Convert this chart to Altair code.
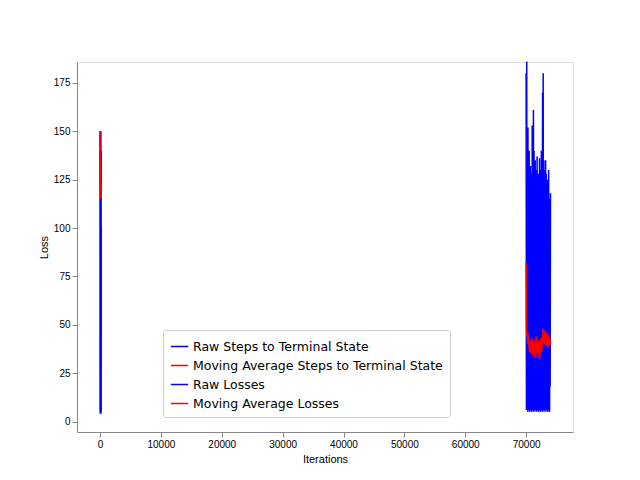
import altair as alt
import pandas as pd

near_raw = [150, 5, 148, 8, 120, 4, 150, 6, 92, 10, 145, 5, 130, 7, 150, 4, 110, 6, 140, 5, 100]
near_avg = [150, 142, 138, 133, 128, 122, 125, 120, 118, 121, 124, 119, 116, 120, 123, 118, 115, 119, 122, 117, 115]
far_raw = [180,6,186,8,150,5,152,7,120,6,140,5,100,8,132,6,118,5,128,7,153,6,110,5,161,8,140,6,125,5,
           135,7,120,6,130,5,137,8,115,6,128,5,122,7,136,6,110,5,130,8,140,6,125,5,170,7,180,6,135,5,
           130,8,120,6,135,5,128,7,110,6,125,5,118,8,130,6,115,5,100,18,118]
far_avg = [82,50,45,44,46,42,40,43,45,41,38,36,40,42,39,37,35,38,40,43,41,38,36,34,37,40,42,39,36,33,
           35,38,41,44,40,37,35,33,36,39,42,40,38,35,32,34,37,40,43,41,38,36,38,41,44,46,48,45,42,40,
           43,45,47,44,41,39,42,44,46,43,40,38,41,43,45,42,40,39,41,43,40]
near_start, near_step = 0, 10
far_start, far_step = 70000, 50

names = ["Raw Steps to Terminal State", "Moving Average Steps to Terminal State",
         "Raw Losses", "Moving Average Losses"]
colors = ["#0000ff", "#ff0000", "#0000ff", "#ff0000"]

rows = []
for name, vals, start, step in [(names[0], near_raw, near_start, near_step),
                                (names[1], near_avg, near_start, near_step),
                                (names[2], far_raw, far_start, far_step),
                                (names[3], far_avg, far_start, far_step)]:
    for i, v in enumerate(vals):
        rows.append({"series": name, "it": start + step * i, "loss": v, "i": i})
df = pd.DataFrame(rows)

chart = alt.Chart(df).mark_line(strokeWidth=1.5).encode(
    x=alt.X("it:Q", title="Iterations", scale=alt.Scale(domain=[-3780, 77700], nice=False, zero=False),
            axis=alt.Axis(values=list(range(0, 70001, 10000)), grid=False, labelFlush=False,
                          format="d", titleFontWeight="normal")),
    y=alt.Y("loss:Q", title="Loss", scale=alt.Scale(domain=[-5.4, 185.8], nice=False, zero=False),
            axis=alt.Axis(values=list(range(0, 176, 25)), grid=False, titleFontWeight="normal")),
    color=alt.Color("series:N", scale=alt.Scale(domain=names, range=colors), sort=names,
                    legend=alt.Legend(title=None, orient="none", legendX=86, legendY=268,
                                      symbolType="stroke", symbolStrokeWidth=1.5, symbolSize=300,
                                      labelFontSize=12.5, labelLimit=400, padding=7, rowPadding=3,
                                      strokeColor="#cccccc",
                                      fillColor="white", cornerRadius=3, labelFont="DejaVu Sans")),
    detail="series:N",
    order="i:Q",
).properties(width=496, height=370).configure_axis(
    labelFont="DejaVu Sans", titleFont="DejaVu Sans", labelFontSize=10, titleFontSize=10.5,
    domainColor="black", tickColor="black", labelColor="black", titleColor="black"
).configure_view(stroke="black").configure(padding={"left": 30, "top": 50, "right": 20, "bottom": 10})

chart.save("out.html", embed_options={"renderer": "svg", "actions": False})
